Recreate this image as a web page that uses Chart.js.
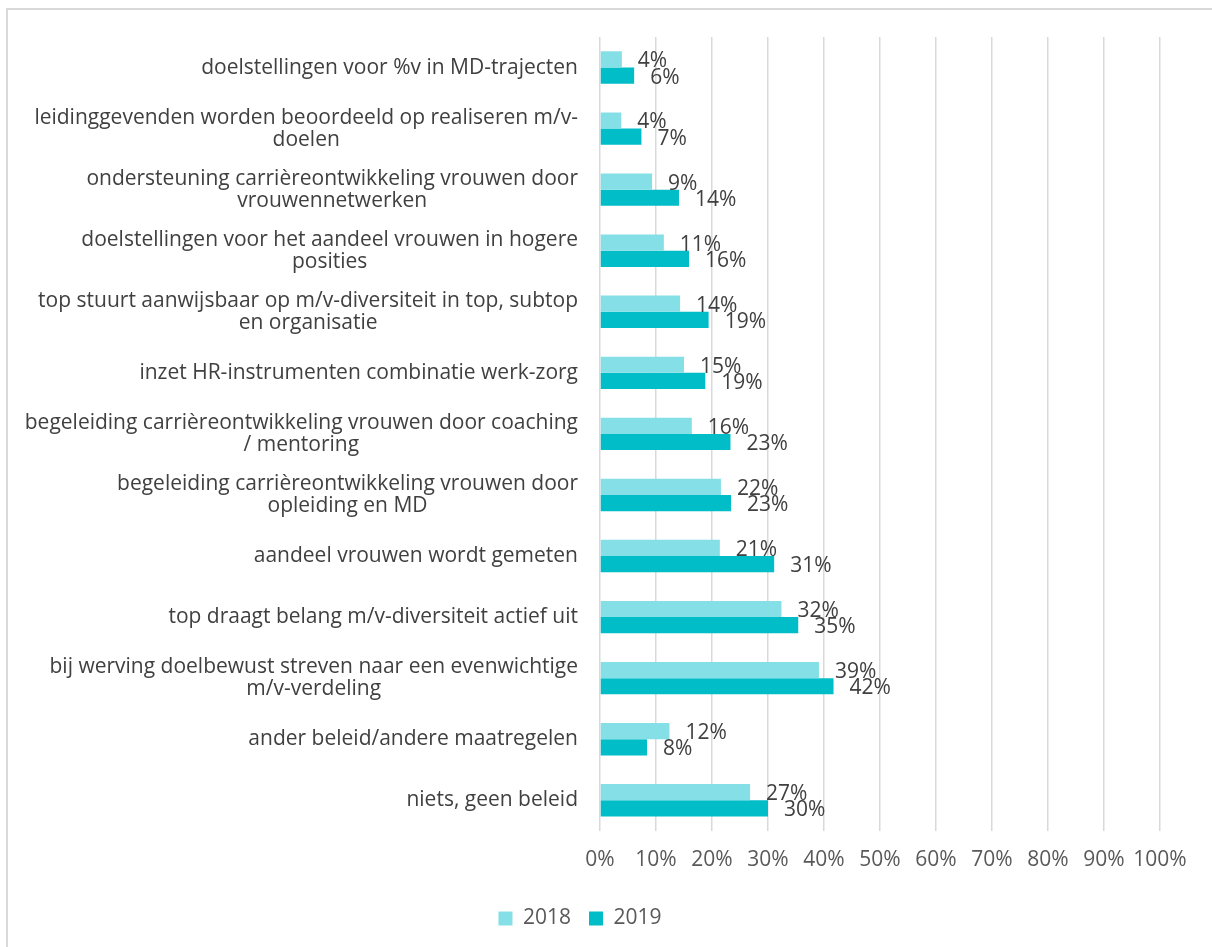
<!DOCTYPE html>
<html>
<head>
<meta charset="utf-8">
<script src="https://cdn.jsdelivr.net/npm/chart.js@4/dist/chart.umd.min.js"></script>
<style>
  html, body { margin: 0; padding: 0; background: #ffffff; }
  #frame {
    position: absolute;
    left: 6px;
    top: 8px;
    width: 1230px;
    height: 960px;
    border: 2px solid #d9d9d9;
    box-sizing: border-box;
  }
  #wrap { position: absolute; left: 0; top: 0; width: 1212px; height: 947px; }
</style>
</head>
<body>
<div id="frame"></div>
<div id="wrap"><canvas id="chart" width="1212" height="947"></canvas></div>
<script>
const categories = [
  "doelstellingen voor %v in MD-trajecten",
  ["leidinggevenden worden beoordeeld op realiseren m/v-", "doelen"],
  ["ondersteuning carrièreontwikkeling vrouwen door", "vrouwennetwerken"],
  ["doelstellingen voor het aandeel vrouwen in hogere", "posities"],
  ["top stuurt aanwijsbaar op m/v-diversiteit in top, subtop", "en organisatie"],
  "inzet HR-instrumenten combinatie werk-zorg",
  ["begeleiding carrièreontwikkeling vrouwen door coaching", "/ mentoring"],
  ["begeleiding carrièreontwikkeling vrouwen door", "opleiding en MD"],
  "aandeel vrouwen wordt gemeten",
  "top draagt belang m/v-diversiteit actief uit",
  ["bij werving doelbewust streven naar een evenwichtige", "m/v-verdeling"],
  "ander beleid/andere maatregelen",
  "niets, geen beleid"
];

const values2018 = [3.9, 3.8, 9.3, 11.4, 14.3, 15.0, 16.4, 21.6, 21.4, 32.4, 39.1, 12.4, 26.8];
const values2019 = [6.1, 7.4, 14.1, 15.9, 19.4, 18.8, 23.3, 23.4, 31.1, 35.4, 41.7, 8.4, 30.0];

const seriesNames = ["2018", "2019"];

const FONT = "'Open Sans'";

// category labels: block right-aligned, lines centred inside the block (Excel style)
const categoryLabels = {
  id: "categoryLabels",
  afterDraw(chart) {
    const ctx = chart.ctx;
    const yScale = chart.scales.y;
    const right = chart.chartArea.left - 22;
    ctx.save();
    ctx.font = "21px " + FONT;
    ctx.fillStyle = "#404040";
    ctx.textAlign = "center";
    ctx.textBaseline = "middle";
    chart.data.labels.forEach((label, i) => {
      const lines = Array.isArray(label) ? label : [label];
      const width = Math.max(...lines.map((line) => ctx.measureText(line).width));
      const cx = right - width / 2;
      const cy = yScale.getPixelForTick(i);
      const lineHeight = 22;
      lines.forEach((line, k) => {
        ctx.fillText(line, cx, cy + (k - (lines.length - 1) / 2) * lineHeight);
      });
    });
    ctx.restore();
  },
};

const barLabels = {
  id: "barLabels",
  afterDatasetsDraw(chart) {
    const ctx = chart.ctx;
    ctx.save();
    ctx.font = "21px " + FONT;
    ctx.fillStyle = "#404040";
    ctx.textAlign = "left";
    ctx.textBaseline = "middle";
    chart.data.datasets.forEach((dataset, i) => {
      const meta = chart.getDatasetMeta(i);
      meta.data.forEach((bar, j) => {
        const text = Math.round(dataset.data[j]) + "%";
        ctx.fillText(text, bar.x + 16, bar.y + 2);
      });
    });
    ctx.restore();
  },
};

new Chart(document.getElementById("chart"), {
  type: "bar",
  data: {
    labels: categories,
    datasets: [
      {
        label: seriesNames[0],
        data: values2018,
        backgroundColor: "#84E0E6",
        categoryPercentage: 0.53,
        barPercentage: 1.0,
      },
      {
        label: seriesNames[1],
        data: values2019,
        backgroundColor: "#00BDC7",
        categoryPercentage: 0.53,
        barPercentage: 1.0,
      },
    ],
  },
  options: {
    indexAxis: "y",
    responsive: false,
    animation: false,
    layout: {
      padding: { left: 0, right: 52, top: 37, bottom: 8 },
    },
    scales: {
      x: {
        min: 0,
        max: 100,
        ticks: {
          stepSize: 10,
          color: "#595959",
          font: { family: FONT, size: 21 },
          padding: 17,
          maxRotation: 0,
          minRotation: 0,
          autoSkip: false,
          callback: (value) => value + "%",
        },
        grid: {
          color: "#d9d9d9",
          lineWidth: 1.5,
          drawTicks: false,
        },
        border: { display: false },
      },
      y: {
        ticks: { display: false },
        grid: { display: false },
        border: { display: false },
        afterFit: (scale) => {
          scale.width = 600;
        },
      },
    },
    plugins: {
      legend: {
        position: "bottom",
        labels: {
          boxWidth: 14,
          boxHeight: 14,
          color: "#595959",
          padding: 18,
          font: { family: FONT, size: 21 },
        },
      },
      tooltip: { enabled: false },
    },
  },
  plugins: [categoryLabels, barLabels],
});
</script>
</body>
</html>
